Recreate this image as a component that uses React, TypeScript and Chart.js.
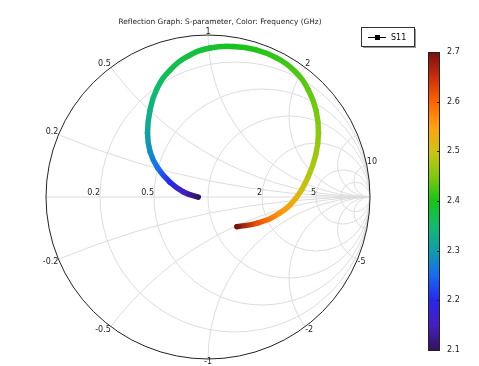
import React, { useEffect, useRef } from "react";
import { Chart, registerables } from "chart.js";

Chart.register(...registerables);

// ---- data ----
const freqGHz = [2.10, 2.155, 2.20, 2.255, 2.285, 2.31, 2.335, 2.35, 2.365, 2.375, 2.385, 2.395, 2.405, 2.415, 2.425, 2.435, 2.445, 2.455, 2.47, 2.485, 2.52, 2.56, 2.615, 2.70];
const reflRe = [-0.0599, -0.1512, -0.2346, -0.3099, -0.3574, -0.3735, -0.3586, -0.3160, -0.2340, -0.1204, 0.0136, 0.1543, 0.2920, 0.4222, 0.5358, 0.6185, 0.6673, 0.6821, 0.6648, 0.6191, 0.5488, 0.4407, 0.3037, 0.1778];
const reflIm = [-0.0012, 0.0309, 0.0907, 0.1784, 0.2796, 0.3951, 0.5327, 0.6667, 0.7833, 0.8710, 0.9198, 0.9290, 0.9099, 0.8593, 0.7765, 0.6630, 0.5327, 0.3951, 0.2580, 0.1265, 0.0006, -0.1006, -0.1617, -0.1833];

const resistanceCircles = [0.2, 0.5, 1, 2, 5, 10];
const reactanceArcs = [0.2, 0.5, 1, 2, 5, 10, -0.2, -0.5, -1, -2, -5, -10];
const reactanceLabels = ["0.2", "0.5", "1", "2", "10", "-0.2", "-0.5", "-1", "-2", "-5"];
const resistanceLabels = ["0.2", "0.5", "2", "5"];

const colorbarTicks = ["2.1", "2.2", "2.3", "2.4", "2.5", "2.6", "2.7"];
const cmapMin = 2.1;
const cmapMax = 2.7;
const cmapColors = [
  [50, 20, 90],
  [70, 30, 190],
  [40, 40, 230],
  [25, 105, 240],
  [20, 155, 170],
  [20, 185, 110],
  [25, 195, 25],
  [130, 200, 20],
  [205, 195, 20],
  [255, 160, 20],
  [255, 100, 0],
  [200, 45, 15],
  [120, 15, 15],
];

const TITLE = "Reflection Graph: S-parameter, Color: Frequency (GHz)";
const LEGEND_LABEL = "S11";

function cmap(f: number): string {
  let t = (f - cmapMin) / (cmapMax - cmapMin);
  t = Math.max(0, Math.min(1, t));
  const n = cmapColors.length - 1;
  const i = Math.min(n - 1, Math.floor(t * n));
  const u = t * n - i;
  const a = cmapColors[i];
  const b = cmapColors[i + 1];
  const c = a.map((v, k) => Math.round(v + (b[k] - v) * u));
  return `rgb(${c[0]},${c[1]},${c[2]})`;
}

const FONT = "DejaVu Sans";

const smithPlugin = {
  id: "smith",
  beforeDatasetsDraw(chart: any) {
    const ctx = chart.ctx as CanvasRenderingContext2D;
    const xs = chart.scales.x;
    const ys = chart.scales.y;
    const cx = xs.getPixelForValue(0);
    const cy = ys.getPixelForValue(0);
    const R = xs.getPixelForValue(1) - cx;
    const px = (u: number) => xs.getPixelForValue(u);
    const py = (v: number) => ys.getPixelForValue(v);
    ctx.save();
    ctx.beginPath();
    ctx.arc(cx, cy, R, 0, Math.PI * 2);
    ctx.clip();
    ctx.strokeStyle = "#dcdcdc";
    ctx.lineWidth = 1;
    for (const r of resistanceCircles) {
      const c = r / (1 + r);
      const rad = 1 / (1 + r);
      ctx.beginPath();
      ctx.arc(px(c), cy, rad * R, 0, Math.PI * 2);
      ctx.stroke();
    }
    for (const x of reactanceArcs) {
      const rad = 1 / Math.abs(x);
      ctx.beginPath();
      ctx.arc(px(1), py(1 / x), rad * R, 0, Math.PI * 2);
      ctx.stroke();
    }
    ctx.beginPath();
    ctx.moveTo(cx - R, cy);
    ctx.lineTo(cx + R, cy);
    ctx.stroke();
    ctx.restore();

    // outer circle
    ctx.save();
    ctx.strokeStyle = "#222";
    ctx.lineWidth = 1;
    ctx.beginPath();
    ctx.arc(cx, cy, R, 0, Math.PI * 2);
    ctx.stroke();

    // labels
    ctx.fillStyle = "#222";
    ctx.font = `8px "${FONT}"`;
    for (const s of reactanceLabels) {
      const x = parseFloat(s);
      const d = x * x + 1;
      const gr = (x * x - 1) / d;
      const gi = (2 * x) / d;
      const lx = px(gr);
      const ly = py(gi);
      ctx.textAlign = Math.abs(gr) < 0.05 ? "center" : gr < 0 ? "right" : "left";
      ctx.textBaseline = gi > 0 ? "bottom" : "top";
      ctx.fillText(s, lx, ly + (gi > 0 ? 1 : -1));
    }
    for (const s of resistanceLabels) {
      const r = parseFloat(s);
      const g = (r - 1) / (r + 1);
      ctx.textAlign = "right";
      ctx.textBaseline = "bottom";
      ctx.fillText(s, px(g), cy);
    }

    // title
    ctx.font = `7.4px "${FONT}"`;
    ctx.textAlign = "center";
    ctx.textBaseline = "middle";
    ctx.fillText(TITLE, 220, 22);
    ctx.restore();
  },
  afterDraw(chart: any) {
    const ctx = chart.ctx as CanvasRenderingContext2D;
    ctx.save();
    // legend
    const lx = 361, ly = 27, lw = 53, lh = 19;
    ctx.fillStyle = "#999";
    ctx.fillRect(lx + 2, ly + 2, lw, lh);
    ctx.fillStyle = "#fff";
    ctx.fillRect(lx, ly, lw, lh);
    ctx.strokeStyle = "#333";
    ctx.lineWidth = 1;
    ctx.strokeRect(lx + 0.5, ly + 0.5, lw, lh);
    ctx.strokeStyle = "#000";
    ctx.beginPath();
    ctx.moveTo(lx + 7, ly + 10.5);
    ctx.lineTo(lx + 25, ly + 10.5);
    ctx.stroke();
    ctx.fillStyle = "#000";
    ctx.fillRect(lx + 14, ly + 8, 5, 5);
    ctx.font = `8px "${FONT}"`;
    ctx.textAlign = "left";
    ctx.textBaseline = "middle";
    ctx.fillText(LEGEND_LABEL, lx + 30, ly + 11);

    // colorbar
    const bx = 428, by = 52, bw = 11, bh = 298;
    const g = ctx.createLinearGradient(0, by + bh, 0, by);
    const n = cmapColors.length - 1;
    cmapColors.forEach((c, i) => g.addColorStop(i / n, `rgb(${c[0]},${c[1]},${c[2]})`));
    ctx.fillStyle = g;
    ctx.fillRect(bx, by, bw, bh);
    ctx.strokeStyle = "#222";
    ctx.strokeRect(bx + 0.5, by + 0.5, bw, bh);
    ctx.fillStyle = "#222";
    ctx.font = `8px "${FONT}"`;
    ctx.textAlign = "left";
    ctx.textBaseline = "middle";
    colorbarTicks.forEach((t, i) => {
      const y = by + bh - (i * bh) / (colorbarTicks.length - 1);
      ctx.fillRect(bx + bw - 2, Math.round(y), 2, 1);
      ctx.fillText(t, bx + bw + 8, y);
    });
    ctx.restore();
  },
};

export default function App() {
  const ref = useRef<HTMLCanvasElement | null>(null);
  useEffect(() => {
    const canvas = ref.current!;
    const c2d = canvas.getContext("2d")!;
    const pts = reflRe.map((re, i) => ({ x: re, y: reflIm[i] }));
    const chart = new Chart(canvas, {
      type: "scatter",
      data: {
        datasets: [
          {
            label: LEGEND_LABEL,
            data: pts,
            showLine: true,
            borderWidth: 5.5,
            pointRadius: 0,
            pointHoverRadius: 0,
            tension: 0.45,
            borderCapStyle: "round",
            borderColor: cmap(2.4),
            segment: {
              borderColor: (sc: any) => {
                const g = c2d.createLinearGradient(sc.p0.x, sc.p0.y, sc.p1.x, sc.p1.y);
                g.addColorStop(0, cmap(freqGHz[sc.p0DataIndex]));
                g.addColorStop(1, cmap(freqGHz[sc.p1DataIndex]));
                return g;
              },
            },
          } as any,
        ],
      },
      options: {
        responsive: false,
        animation: false,
        layout: { padding: { left: 46, right: 109, top: 35, bottom: 7 } },
        scales: {
          x: { type: "linear", min: -1, max: 1, display: false },
          y: { type: "linear", min: -1, max: 1, display: false },
        },
        plugins: { legend: { display: false }, tooltip: { enabled: false }, title: { display: false } },
      },
      plugins: [smithPlugin],
    });
    return () => chart.destroy();
  }, []);
  return (
    <div style={{ position: "fixed", left: 0, top: 0, width: 479, height: 366, background: "#fff" }}>
      <canvas ref={ref} width={479} height={366} style={{ display: "block" }} />
    </div>
  );
}
